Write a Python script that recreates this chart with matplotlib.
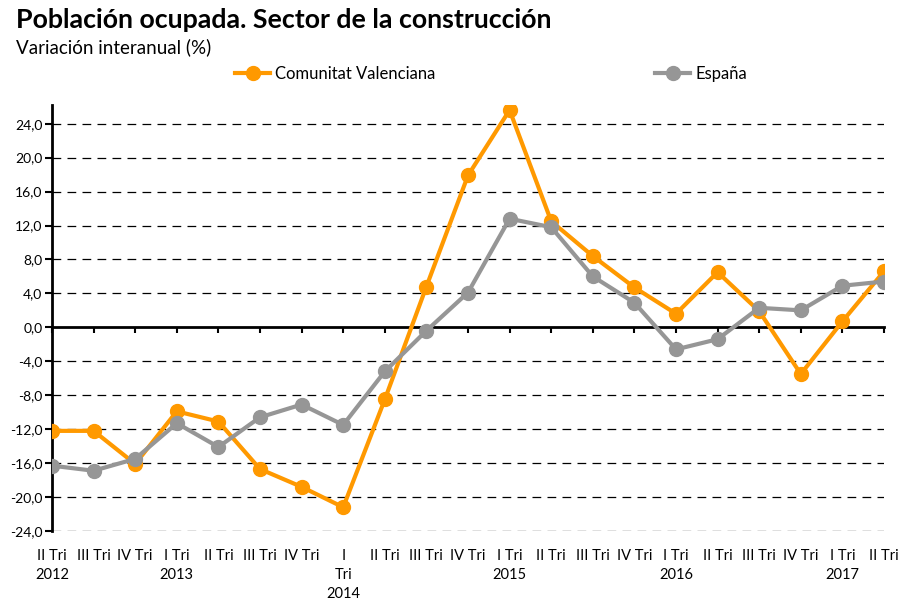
import numpy as np
import matplotlib.pyplot as plt

plt.rcParams['font.family'] = ['Lato', 'DejaVu Sans']

# trimestres, II 2012 .. II 2017
etiquetas = ['II Tri\n2012', 'III Tri', 'IV Tri',
             'I Tri\n2013', 'II Tri', 'III Tri', 'IV Tri',
             'I\nTri\n2014', 'II Tri', 'III Tri', 'IV Tri',
             'I Tri\n2015', 'II Tri', 'III Tri', 'IV Tri',
             'I Tri\n2016', 'II Tri', 'III Tri', 'IV Tri',
             'I Tri\n2017', 'II Tri']

cv = [-12.2, -12.2, -16.1, -9.9, -11.1, -16.7, -18.8, -21.2,
      -8.5, 4.8, 17.9, 25.6, 12.5, 8.4, 4.7, 1.6, 6.5, 1.9, -5.5, 0.7, 6.6]
espana = [-16.3, -16.9, -15.5, -11.3, -14.1, -10.6, -9.1, -11.5,
          -5.2, -0.4, 4.1, 12.8, 11.8, 6.0, 2.9, -2.6, -1.4, 2.3, 2.0, 4.9, 5.4]

naranja = '#FF9900'
gris = '#969696'

x = np.arange(len(cv))

fig = plt.figure(figsize=(9.02, 6.01), dpi=100)
ax = fig.add_axes([52/902, 70/601, 832/902, 426/601])

ax.plot(x, cv, color=naranja, lw=3, marker='o', ms=10, label='Comunitat Valenciana', zorder=3)
ax.plot(x, espana, color=gris, lw=3, marker='o', ms=10, label='España', zorder=4)

ax.set_xlim(0, 20)
ax.set_ylim(-24, 26.2)
yt = np.arange(-24, 25, 4)
ax.set_yticks(yt)
ax.set_yticklabels([('%.1f' % v).replace('.', ',') for v in yt], fontsize=10)
ax.tick_params(axis='y', direction='out', length=5, width=1.5, pad=2)

for v in yt:
    if v != 0:
        ax.axhline(v, color='black', lw=0.9, dashes=(7, 5), zorder=1)

# eje horizontal en el cero
for s in ['top', 'right']:
    ax.spines[s].set_visible(False)
ax.spines['left'].set_linewidth(2)
ax.spines['bottom'].set_position(('data', 0))
ax.spines['bottom'].set_linewidth(2)
ax.set_xticks(x)
ax.tick_params(axis='x', direction='out', length=4, width=1.5, labelbottom=False)

sec = ax.secondary_xaxis(0)
sec.set_xticks(x)
sec.set_xticklabels(etiquetas, fontsize=10.5, linespacing=1.45, va='top')
sec.tick_params(length=0, pad=13)
sec.spines['bottom'].set_visible(False)

fig.text(16/902, 1 - 20/601, 'Población ocupada. Sector de la construcción',
         fontsize=19.3, fontweight='bold', va='center', ha='left')
fig.text(16/902, 1 - 47/601, 'Variación interanual (%)', fontsize=13.5, va='center', ha='left')

fig.legend(loc='center left', bbox_to_anchor=(235/902, 1 - 74/601), ncol=2, frameon=False,
           fontsize=12, handlelength=2.1, handletextpad=0.3, columnspacing=13.2,
           borderaxespad=0, borderpad=0)

fig.savefig('out.png', dpi=100)
